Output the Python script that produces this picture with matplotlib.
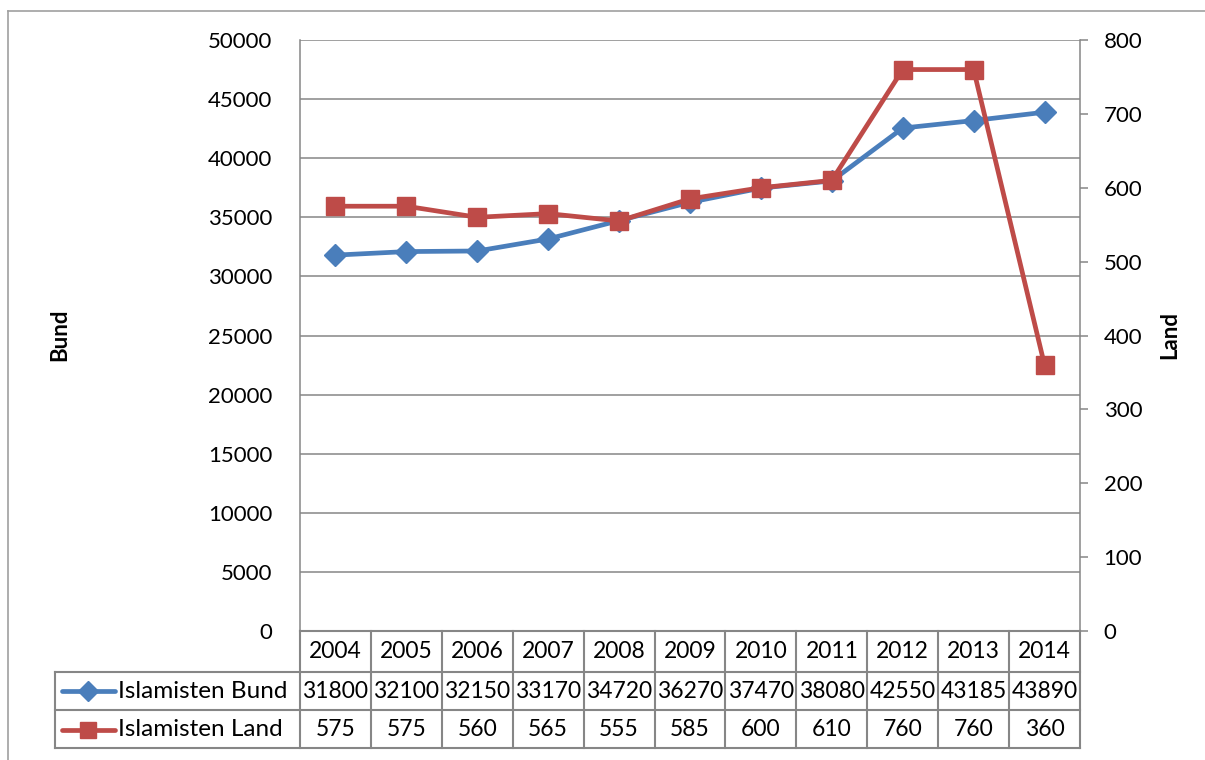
import matplotlib
matplotlib.use("Agg")
import matplotlib.pyplot as plt
from matplotlib.lines import Line2D
from matplotlib.transforms import blended_transform_factory

# data
years = ["2004", "2005", "2006", "2007", "2008", "2009", "2010", "2011", "2012", "2013", "2014"]
bund = [31800, 32100, 32150, 33170, 34720, 36270, 37470, 38080, 42550, 43185, 43890]
land = [575, 575, 560, 565, 555, 585, 600, 610, 760, 760, 360]
series_names = ["Islamisten Bund", "Islamisten Land"]

BLUE = "#4A7EBB"
RED = "#BE4B48"
GRID = "#868686"
FONT = ["Lato", "DejaVu Sans"]
plt.rcParams["font.family"] = FONT

W, H = 1205, 760


def fx(px):
    return px / W


def fy(py):
    return 1 - py / H


fig = plt.figure(figsize=(W / 100, H / 100), dpi=100)
fig.patch.set_facecolor("white")

# chart frame (left + top edges, rest runs off the image)
fig.add_artist(Line2D([fx(8), fx(8)], [fy(11), 0], transform=fig.transFigure, color="#A0A0A0", lw=1.2))
fig.add_artist(Line2D([fx(8), 1], [fy(11), fy(11)], transform=fig.transFigure, color="#A0A0A0", lw=1.2))

ax = fig.add_axes([fx(300), fy(631), (1080 - 300) / W, (631 - 40) / H])
x = list(range(len(years)))
ax.set_xlim(-0.5, len(years) - 0.5)
ax.set_ylim(0, 50000)
ax.set_yticks(range(0, 50001, 5000))
ax.set_xticks([])
ax.yaxis.grid(True, color=GRID, lw=1.1)
ax.set_axisbelow(True)
ax.tick_params(axis="y", length=0, pad=20, labelsize=16)
for s in ("top", "bottom", "right"):
    ax.spines[s].set_visible(False)
ax.spines["left"].set_color(GRID)
ax.spines["left"].set_linewidth(1.1)

ax.plot(x, bund, color=BLUE, lw=3.4, marker="D", markersize=11.5, zorder=3)

ax2 = ax.twinx()
ax2.set_ylim(0, 800)
ax2.set_yticks(range(0, 801, 100))
ax2.tick_params(axis="y", length=6, width=1.1, color=GRID, pad=11, labelsize=16)
for s in ("top", "bottom", "left"):
    ax2.spines[s].set_visible(False)
ax2.spines["right"].set_color(GRID)
ax2.spines["right"].set_linewidth(1.1)
ax2.plot(x, land, color=RED, lw=3.4, marker="s", markersize=13.5, zorder=3)

fig.text(fx(60), fy(335), "Bund", rotation=90, ha="center", va="center", fontsize=16, fontweight="bold")
fig.text(fx(1170), fy(335), "Land", rotation=90, ha="center", va="center", fontsize=16, fontweight="bold")

# data table below the plot
tr = blended_transform_factory(ax.transData, fig.transFigure)
lo, hi = -0.5, len(years) - 0.5
tkw = dict(color=GRID, lw=1.5, clip_on=False)
fig.add_artist(Line2D([fx(300), fx(300)], [fy(631), fy(748)], transform=fig.transFigure, **tkw))
fig.add_artist(Line2D([fx(55), fx(55)], [fy(672), fy(748)], transform=fig.transFigure, **tkw))
fig.add_artist(Line2D([lo, hi], [fy(631), fy(631)], transform=tr, **tkw))
for yy in (672, 710, 748):
    fig.add_artist(Line2D([fx(55), fx(1080)], [fy(yy), fy(yy)], transform=fig.transFigure, **tkw))
for i in range(len(years)):
    xb = i + 0.5
    fig.add_artist(Line2D([xb, xb], [fy(631), fy(748)], transform=tr, **tkw))

for i, yr in enumerate(years):
    fig.text(i, fy(652), yr, transform=tr, ha="center", va="center", fontsize=16.5)
    fig.text(i, fy(691), str(bund[i]), transform=tr, ha="center", va="center", fontsize=16.5)
    fig.text(i, fy(730), str(land[i]), transform=tr, ha="center", va="center", fontsize=16.5)

# legend keys in the table
for yy, col, mk, ms, name in ((691, BLUE, "D", 10, series_names[0]), (730, RED, "s", 12, series_names[1])):
    fig.add_artist(Line2D([fx(62), fx(115)], [fy(yy), fy(yy)], transform=fig.transFigure,
                          color=col, lw=3.4, solid_capstyle="round"))
    fig.add_artist(Line2D([fx(88)], [fy(yy)], transform=fig.transFigure, color=col,
                          marker=mk, markersize=ms, lw=0))
    fig.text(fx(118), fy(yy), name, ha="left", va="center", fontsize=17.5)

fig.savefig("out.png", dpi=100, facecolor="white")
